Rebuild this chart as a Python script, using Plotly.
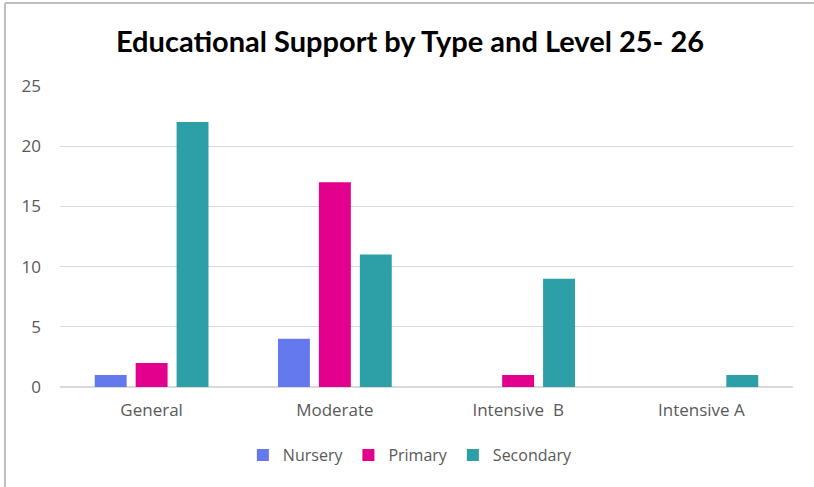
import plotly.graph_objects as go

# Support levels (x categories) and counts per school phase
categories = ["General", "Moderate", "Intensive  B", "Intensive A"]
nursery = [1, 4, 0, 0]
primary = [2, 17, 1, 0]
secondary = [22, 11, 9, 1]
y_ticks = [0, 5, 10, 15, 20, 25]

series = [
    ("Nursery", nursery, "#6479EE"),
    ("Primary", primary, "#E3008C"),
    ("Secondary", secondary, "#2CA0A6"),
]

W, H = 814, 487
ML, MR, MT, MB = 60, 21, 86, 100

fig = go.Figure()
for name, vals, color in series:
    fig.add_trace(go.Bar(
        name=name,
        x=categories,
        y=vals,
        marker=dict(color=color, line=dict(width=0)),
    ))

tick_font = dict(family="Open Sans, sans-serif", size=17, color="#595959")
legend_font = dict(family="Open Sans, sans-serif", size=16, color="#595959")

# Outer frame: thin grey edge along the left and top of the chart area
pw, ph = W - ML - MR, H - MT - MB
left_x = (5 - ML) / pw
top_y = (H - MB - 3) / ph
bottom_y = (H - MB - H) / ph
right_x = (W - ML) / pw
frame = dict(type="line", xref="paper", yref="paper",
             line=dict(color="#BFBFBF", width=2), layer="above")

fig.update_layout(
    width=W, height=H,
    margin=dict(l=ML, r=MR, t=MT, b=MB),
    paper_bgcolor="white",
    plot_bgcolor="white",
    barmode="group",
    bargap=0.33,
    bargroupgap=0.22,
    title=dict(
        text="<b>Educational Support by Type and Level 25- 26</b>",
        x=(410 - ML) / pw, xanchor="center", xref="paper",
        y=1 - 42 / H, yanchor="middle",
        font=dict(family="Lato, sans-serif", size=29, color="#000000"),
    ),
    xaxis=dict(
        showgrid=False, showline=True, linecolor="#D9D9D9", linewidth=1,
        ticks="", tickfont=tick_font, fixedrange=True, ticklabelstandoff=8,
    ),
    yaxis=dict(
        range=[0, 25], tickvals=y_ticks, showgrid=True, gridcolor="#D9D9D9",
        gridwidth=1, zeroline=True, zerolinecolor="#D9D9D9", showline=False,
        ticks="", tickfont=tick_font, ticklabelstandoff=18,
    ),
    legend=dict(
        orientation="h", x=0.478, xanchor="center",
        y=(0 - 68) / ph, yanchor="middle",
        font=legend_font, itemwidth=30, traceorder="normal",
    ),
    shapes=[
        dict(frame, x0=left_x, x1=left_x, y0=bottom_y, y1=top_y),
        dict(frame, x0=left_x, x1=right_x, y0=top_y, y1=top_y),
    ],
)

fig.write_html("out.html")
